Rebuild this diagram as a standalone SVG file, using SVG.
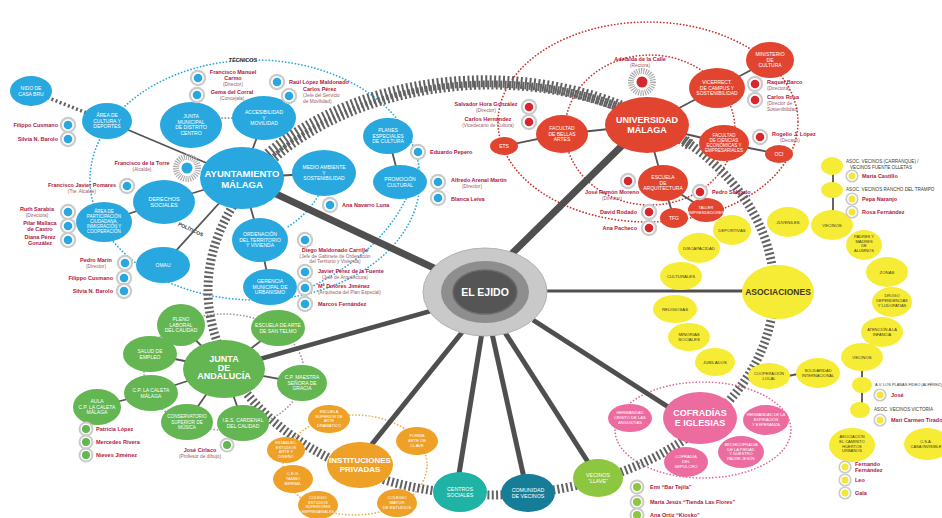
<svg xmlns="http://www.w3.org/2000/svg" width="942" height="518" viewBox="0 0 942 518">
<defs>
<style>
text{font-family:"Liberation Sans",Arial,Helvetica,sans-serif}
.w{fill:#fff;text-anchor:middle;font-size:5px}
.d{fill:#3d3a1c;text-anchor:middle;font-size:5px}
.b{font-weight:bold}
.pn{fill:#b3163c;font-size:5.5px;font-weight:bold}
.pr{fill:#9c5b6c;font-size:4.8px}
.lab{fill:#3d3a1c;font-size:4.6px}
.e{text-anchor:end}
.m{text-anchor:middle}
.blue{fill:#29a8df}
.red{fill:#e2452f}
.grn{fill:#63b651}
.org{fill:#efa027}
.pnk{fill:#ec6ca0}
.yel{fill:#f6ec35}
.con{stroke:#4f4f4f;fill:none}
.thin{stroke:#555;stroke-width:1.8;fill:none}
.dot{fill:none;stroke-width:1.7;stroke-dasharray:0.1 3.2;stroke-linecap:round}
.hatch{fill:none;stroke:#626262;stroke-dasharray:2 2.4}
</style>
<g id="mb"><circle r="8.2" fill="#cbcbcb"/><circle r="6" fill="#fff"/><circle r="4.3" fill="#29a8df"/></g>
<g id="mr"><circle r="8.2" fill="#cbcbcb"/><circle r="6" fill="#fff"/><circle r="4.3" fill="#d7262e"/></g>
<g id="mg"><circle r="7.5" fill="#cbcbcb"/><circle r="5.5" fill="#fff"/><circle r="4" fill="#63b651"/></g>
<g id="ml"><circle r="7.5" fill="#cbcbcb"/><circle r="5.5" fill="#fff"/><circle r="4" fill="#8dc63f"/></g>
<g id="my"><circle r="6.6" fill="#cbcbcb"/><circle r="4.9" fill="#fff"/><circle r="3.5" fill="#f3e83a"/></g>
<g id="sb"><circle r="11" fill="none" stroke="#a9a9a9" stroke-width="6" stroke-dasharray="1.1 1.1"/><circle r="7.5" fill="#fff"/><circle r="5.5" fill="#29a8df"/></g>
<g id="sr"><circle r="11" fill="none" stroke="#a9a9a9" stroke-width="6" stroke-dasharray="1.1 1.1"/><circle r="7.5" fill="#fff"/><circle r="5.5" fill="#d7262e"/></g>
</defs>
<rect width="942" height="518" fill="#fff"/>

<g id="rings">
<ellipse class="dot" cx="255" cy="180" rx="165" ry="120" stroke="#29a8df"/>
<path class="dot" d="M418 168 Q395 250 300 292" stroke="#29a8df"/>
<path class="dot" d="M318 196 Q306 216 286 228" stroke="#29a8df"/>
<ellipse class="dot" cx="648" cy="122" rx="150" ry="100" stroke="#c8322a"/>
<ellipse class="dot" cx="650" cy="130" rx="85" ry="75" stroke="#c8322a"/>
<ellipse class="dot" cx="224" cy="372" rx="80" ry="58" stroke="#9a9a9a"/>
<ellipse class="dot" cx="355" cy="465" rx="72" ry="50" stroke="#e4b050"/>
<ellipse class="dot" cx="703" cy="430" rx="88" ry="48" stroke="#e06c9c"/>
<ellipse class="hatch" cx="491" cy="290" rx="283" ry="205" stroke-width="9"/>
<path class="hatch" d="M262 160 A283 205 0 0 1 690 145" stroke-width="12"/>
<text x="243" y="62" class="m b" style="font-size:5.5px;fill:#333">TÉCNICOS</text>
<text x="190" y="231" class="m b" style="font-size:5px;fill:#333" transform="rotate(25 190 231)">POLÍTICOS</text>
</g>

<g id="connectors">
<line class="con" x1="485" y1="292" x2="242" y2="178" stroke-width="7"/>
<line class="con" x1="485" y1="280" x2="643" y2="125" stroke-width="7"/>
<line class="con" x1="470" y1="300" x2="224" y2="369" stroke-width="4.5"/>
<line class="con" x1="485" y1="291" x2="778" y2="291" stroke-width="3"/>
<line class="con" x1="472" y1="320" x2="360" y2="459" stroke-width="5"/>
<line class="con" x1="484" y1="320" x2="458" y2="480" stroke-width="5"/>
<line class="con" x1="489" y1="320" x2="526" y2="487" stroke-width="5"/>
<line class="con" x1="497" y1="320" x2="595" y2="473" stroke-width="5"/>
<line class="con" x1="533" y1="320" x2="690" y2="421" stroke-width="5"/>
<line class="thin" x1="242" y1="178" x2="107" y2="121" stroke-width="2.6"/>
<line class="thin" x1="242" y1="178" x2="264" y2="118"/>
<line class="thin" x1="242" y1="178" x2="164" y2="202"/>
<line class="thin" x1="242" y1="178" x2="260" y2="240"/>
<line class="thin" x1="242" y1="178" x2="163" y2="265" stroke-width="2.4"/>
<line class="thin" x1="242" y1="178" x2="324" y2="173"/>
<line class="hatch" x1="31" y1="91" x2="107" y2="121" stroke-width="3.5"/>
<line class="thin" x1="164" y1="202" x2="104" y2="222"/>
<line class="thin" x1="260" y1="240" x2="270" y2="287"/>
<line class="thin" x1="388" y1="136" x2="400" y2="182"/>
<line class="dot" x1="222" y1="118" x2="234" y2="118" stroke="#777"/>
<line class="thin" x1="647" y1="125" x2="562" y2="134"/>
<line class="thin" x1="562" y1="134" x2="504" y2="146"/>
<line class="thin" x1="647" y1="125" x2="663" y2="183"/>
<line class="thin" x1="663" y1="183" x2="674" y2="218"/>
<line class="thin" x1="663" y1="183" x2="706" y2="210"/>
<line class="thin" x1="647" y1="125" x2="724" y2="143"/>
<line class="thin" x1="724" y1="143" x2="779" y2="154"/>
<line class="thin" x1="647" y1="125" x2="717" y2="88"/>
<line class="thin" x1="717" y1="88" x2="770" y2="60"/>
<line class="thin" x1="224" y1="369" x2="181" y2="325"/>
<line class="thin" x1="224" y1="369" x2="278" y2="328"/>
<line class="thin" x1="224" y1="369" x2="150" y2="354"/>
<line class="thin" x1="224" y1="369" x2="151" y2="393"/>
<line class="thin" x1="224" y1="369" x2="187" y2="422"/>
<line class="thin" x1="224" y1="369" x2="243" y2="423"/>
<line class="thin" x1="224" y1="369" x2="302" y2="383"/>
<line class="thin" x1="151" y1="393" x2="97" y2="407"/>
<line class="thin" x1="833" y1="170" x2="833" y2="212"/>
<line class="thin" x1="862" y1="368" x2="862" y2="404"/>
<line class="thin" x1="788" y1="376" x2="798" y2="374"/>
</g>

<g id="el-ejido">
<ellipse cx="485" cy="292" rx="62" ry="44" fill="#c9c9c9" stroke="#b3b3b3"/>
<ellipse cx="485" cy="292" rx="44" ry="31" fill="#8e8e8e"/>
<ellipse cx="485" cy="292" rx="32" ry="22" fill="#555" stroke="#6a6a6a" stroke-width="1.5"/>
<text x="485" y="296" class="w b" style="font-size:10.5px">EL EJIDO</text>
</g>

<!-- BLUE -->
<g id="ayuntamiento"><ellipse class="blue" cx="242" cy="178" rx="42" ry="31"/><text class="w b" x="242" y="177" style="font-size:9.5px">AYUNTAMIENTO<tspan x="242" dy="10.5">MÁLAGA</tspan></text></g>
<g id="b-casa"><ellipse class="blue" cx="31" cy="91" rx="21" ry="15"/><text class="w" x="31" y="90">NIDO DE<tspan x="31" dy="5.6">CASA BRU</tspan></text></g>
<g id="b-cultura"><ellipse class="blue" cx="107" cy="121" rx="25" ry="18"/><text class="w" x="107" y="117">ÁREA DE<tspan x="107" dy="5.6">CULTURA Y</tspan><tspan x="107" dy="5.6">DEPORTES</tspan></text></g>
<g id="b-junta-municipal"><ellipse class="blue" cx="191" cy="125" rx="31" ry="23"/><text class="w" x="191" y="118">JUNTA<tspan x="191" dy="5.6">MUNICIPAL</tspan><tspan x="191" dy="5.6">DE DISTRITO</tspan><tspan x="191" dy="5.6">CENTRO</tspan></text></g>
<g id="b-accesibilidad"><ellipse class="blue" cx="264" cy="118" rx="32" ry="22"/><text class="w" x="264" y="114">ACCESIBILIDAD<tspan x="264" dy="5.6">Y</tspan><tspan x="264" dy="5.6">MOVILIDAD</tspan></text></g>
<g id="b-medio-ambiente"><ellipse class="blue" cx="324" cy="173" rx="32" ry="23"/><text class="w" x="324" y="169">MEDIO AMBIENTE<tspan x="324" dy="5.6">Y</tspan><tspan x="324" dy="5.6">SOSTENIBILIDAD</tspan></text></g>
<g id="b-planes"><ellipse class="blue" cx="388" cy="136" rx="25" ry="18"/><text class="w" x="388" y="132">PLANES<tspan x="388" dy="5.6">ESPECIALES</tspan><tspan x="388" dy="5.6">DE CULTURA</tspan></text></g>
<g id="b-promocion"><ellipse class="blue" cx="400" cy="182" rx="27" ry="17"/><text class="w" x="400" y="181">PROMOCIÓN<tspan x="400" dy="5.6">CULTURAL</tspan></text></g>
<g id="b-derechos"><ellipse class="blue" cx="164" cy="202" rx="31" ry="22"/><text class="w" x="164" y="201" style="font-size:5.5px">DERECHOS<tspan x="164" dy="6.2">SOCIALES</tspan></text></g>
<g id="b-participacion"><ellipse class="blue" cx="104" cy="222" rx="28" ry="20"/><text class="w" x="104" y="212.5" style="font-size:4.5px">ÁREA DE<tspan x="104" dy="5">PARTICIPACIÓN</tspan><tspan x="104" dy="5">CIUDADANA,</tspan><tspan x="104" dy="5">INMIGRACIÓN Y</tspan><tspan x="104" dy="5">COOPERACIÓN</tspan></text></g>
<g id="b-omau"><ellipse class="blue" cx="163" cy="265" rx="27" ry="18"/><text class="w" x="163" y="267">OMAU</text></g>
<g id="b-ordenacion"><ellipse class="blue" cx="260" cy="240" rx="28" ry="22"/><text class="w" x="260" y="236">ORDENACIÓN<tspan x="260" dy="5.6">DEL TERRITORIO</tspan><tspan x="260" dy="5.6">Y VIVIENDA</tspan></text></g>
<g id="b-gerencia"><ellipse class="blue" cx="270" cy="287" rx="27" ry="18"/><text class="w" x="270" y="283">GERENCIA<tspan x="270" dy="5.6">MUNICIPAL DE</tspan><tspan x="270" dy="5.6">URBANISMO</tspan></text></g>

<!-- RED -->
<g id="universidad"><ellipse class="red" cx="647" cy="125" rx="42" ry="28"/><text class="w b" x="647" y="123" style="font-size:9px">UNIVERSIDAD<tspan x="647" dy="10">MÁLAGA</tspan></text></g>
<g id="r-bellas-artes"><ellipse class="red" cx="562" cy="134" rx="26" ry="19"/><text class="w" x="562" y="130">FACULTAD<tspan x="562" dy="5.6">DE BELLAS</tspan><tspan x="562" dy="5.6">ARTES</tspan></text></g>
<g id="r-ets"><ellipse class="red" cx="504" cy="146" rx="14" ry="9"/><text class="w" x="504" y="148">ETS</text></g>
<g id="r-arquitectura"><ellipse class="red" cx="663" cy="183" rx="25" ry="18"/><text class="w" x="663" y="179">ESCUELA<tspan x="663" dy="5.6">DE</tspan><tspan x="663" dy="5.6">ARQUITECTURA</tspan></text></g>
<g id="r-tfg"><ellipse class="red" cx="674" cy="218" rx="14" ry="10"/><text class="w" x="674" y="220">TFG</text></g>
<g id="r-taller"><ellipse class="red" cx="706" cy="210" rx="18" ry="12"/><text class="w" x="706" y="209" style="font-size:4px">TALLER<tspan x="706" dy="4.8">EMPRENDEDORES</tspan></text></g>
<g id="r-economicas"><ellipse class="red" cx="724" cy="143" rx="25" ry="18"/><text class="w" x="724" y="137" style="font-size:4.5px">FACULTAD<tspan x="724" dy="5">DE CIENCIAS</tspan><tspan x="724" dy="5">ECONÓMICAS Y</tspan><tspan x="724" dy="5">EMPRESARIALES</tspan></text></g>
<g id="r-oci"><ellipse class="red" cx="779" cy="154" rx="14" ry="9"/><text class="w" x="779" y="156">OCI</text></g>
<g id="r-vicerrectorado"><ellipse class="red" cx="717" cy="88" rx="28" ry="20"/><text class="w" x="717" y="84">VICERRECT.<tspan x="717" dy="5.6">DE CAMPUS Y</tspan><tspan x="717" dy="5.6">SOSTENIBILIDAD</tspan></text></g>
<g id="r-ministerio"><ellipse class="red" cx="770" cy="60" rx="24" ry="18"/><text class="w" x="770" y="56">MINISTERIO<tspan x="770" dy="5.6">DE</tspan><tspan x="770" dy="5.6">CULTURA</tspan></text></g>

<!-- GREEN -->
<g id="junta-andalucia"><ellipse class="grn" cx="224" cy="369" rx="41" ry="29"/><text class="w b" x="224" y="362" style="font-size:9px">JUNTA<tspan x="224" dy="8.5">DE</tspan><tspan x="224" dy="8.5">ANDALUCÍA</tspan></text></g>
<g id="g-pleno"><ellipse class="grn" cx="181" cy="325" rx="24" ry="21"/><text class="w" x="181" y="321">PLENO<tspan x="181" dy="5.6">LABORAL</tspan><tspan x="181" dy="5.6">DEL CALIDAD</tspan></text></g>
<g id="g-escuela-arte"><ellipse class="grn" cx="278" cy="328" rx="27" ry="18"/><text class="w" x="278" y="327">ESCUELA DE ARTE<tspan x="278" dy="5.6">DE SAN TELMO</tspan></text></g>
<g id="g-salud"><ellipse class="grn" cx="150" cy="354" rx="27" ry="18"/><text class="w" x="150" y="353">SALUD DE<tspan x="150" dy="5.6">EMPLEO</tspan></text></g>
<g id="g-cp"><ellipse class="grn" cx="151" cy="393" rx="27" ry="18"/><text class="w" x="151" y="392">C.P. LA CALETA<tspan x="151" dy="5.6">MÁLAGA</tspan></text></g>
<g id="g-aula"><ellipse class="grn" cx="97" cy="407" rx="24" ry="18"/><text class="w" x="97" y="403">AULA<tspan x="97" dy="5.6">C.P. LA CALETA</tspan><tspan x="97" dy="5.6">MÁLAGA</tspan></text></g>
<g id="g-conservatorio"><ellipse class="grn" cx="187" cy="422" rx="26" ry="18"/><text class="w" x="187" y="418" style="font-size:4.6px">CONSERVATORIO<tspan x="187" dy="5.6">SUPERIOR DE</tspan><tspan x="187" dy="5.6">MÚSICA</tspan></text></g>
<g id="g-ies"><ellipse class="grn" cx="243" cy="423" rx="26" ry="18"/><text class="w" x="243" y="422">I.E.S. CARDENAL<tspan x="243" dy="5.6">DEL CALIDAD</tspan></text></g>
<g id="g-cp-maestra"><ellipse class="grn" cx="302" cy="383" rx="25" ry="18"/><text class="w" x="302" y="379">C.P. MAESTRA<tspan x="302" dy="5.6">SEÑORA DE</tspan><tspan x="302" dy="5.6">GRACIA</tspan></text></g>

<!-- ORANGE -->
<g id="instituciones-privadas"><ellipse class="org" cx="360" cy="465" rx="33" ry="23"/><text class="w b" x="360" y="463" style="font-size:8px">INSTITUCIONES<tspan x="360" dy="9">PRIVADAS</tspan></text></g>
<g id="o-escuela"><ellipse class="org" cx="329" cy="419" rx="21" ry="14"/><text class="w" x="329" y="413" style="font-size:4px">ESCUELA<tspan x="329" dy="4.6">SUPERIOR DE</tspan><tspan x="329" dy="4.6">ARTE</tspan><tspan x="329" dy="4.6">DRAMÁTICO</tspan></text></g>
<g id="o-forma"><ellipse class="org" cx="417" cy="441" rx="21" ry="14"/><text class="w" x="417" y="437" style="font-size:4.2px">FORMA<tspan x="417" dy="4.8">ARTE DE</tspan><tspan x="417" dy="4.8">CLAVE</tspan></text></g>
<g id="o-establec"><ellipse class="org" cx="286" cy="450" rx="19" ry="13"/><text class="w" x="286" y="444" style="font-size:4px">ESTABLEC.<tspan x="286" dy="4.6">ESTUDIOS</tspan><tspan x="286" dy="4.6">ARTE Y</tspan><tspan x="286" dy="4.6">DISEÑO</tspan></text></g>
<g id="o-ceg"><ellipse class="org" cx="293" cy="479" rx="20" ry="14"/><text class="w" x="293" y="475" style="font-size:4.2px">C.E.G.<tspan x="293" dy="4.8">TAMBO</tspan><tspan x="293" dy="4.8">BERNAL</tspan></text></g>
<g id="o-colegio-estudios"><ellipse class="org" cx="318" cy="505" rx="20" ry="14"/><text class="w" x="318" y="499" style="font-size:3.8px">COLEGIO<tspan x="318" dy="4.5">ESTUDIOS</tspan><tspan x="318" dy="4.5">SUPERIORES</tspan><tspan x="318" dy="4.5">EMPRESARIALES</tspan></text></g>
<g id="o-colegio-mayor"><ellipse class="org" cx="397" cy="503" rx="20" ry="14"/><text class="w" x="397" y="499" style="font-size:4.2px">COLEGIO<tspan x="397" dy="4.8">MAYOR</tspan><tspan x="397" dy="4.8">DE ESTUDIOS</tspan></text></g>

<!-- TEAL / LIME -->
<g id="centros-sociales"><ellipse cx="460" cy="492" rx="27" ry="20" fill="#1fb3a6"/><text class="w" x="460" y="491" style="font-size:5.3px">CENTROS<tspan x="460" dy="6">SOCIALES</tspan></text></g>
<g id="comunidad-vecinos"><ellipse cx="528" cy="493" rx="27" ry="19" fill="#167d98"/><text class="w" x="528" y="492" style="font-size:5.3px">COMUNIDAD<tspan x="528" dy="6">DE VECINOS</tspan></text></g>
<g id="vecinos-llave"><ellipse cx="598" cy="478" rx="25" ry="19" fill="#8dc63f"/><text class="w" x="598" y="477" style="font-size:5.3px">VECINOS<tspan x="598" dy="6">“LLAVE”</tspan></text></g>

<!-- PINK -->
<g id="cofradias"><ellipse class="pnk" cx="700" cy="418" rx="37" ry="26"/><text class="w b" x="700" y="416" style="font-size:9px">COFRADÍAS<tspan x="700" dy="10">E IGLESIAS</tspan></text></g>
<g id="p-hermandad-cristo"><ellipse class="pnk" cx="630" cy="418" rx="22" ry="14"/><text class="w" x="630" y="414" style="font-size:4.2px">HERMANDAD<tspan x="630" dy="4.8">CRISTO DE LAS</tspan><tspan x="630" dy="4.8">ANGUSTIAS</tspan></text></g>
<g id="p-cofradia-sepulcro"><ellipse class="pnk" cx="686" cy="462" rx="22" ry="15"/><text class="w" x="686" y="458" style="font-size:4.2px">COFRADÍA<tspan x="686" dy="4.8">DEL</tspan><tspan x="686" dy="4.8">SEPULCRO</tspan></text></g>
<g id="p-archicofradia"><ellipse class="pnk" cx="741" cy="452" rx="23" ry="16"/><text class="w" x="741" y="446" style="font-size:4px">ARCHICOFRADÍA<tspan x="741" dy="4.6">DE LA PIEDAD</tspan><tspan x="741" dy="4.6">Y NUESTRO</tspan><tspan x="741" dy="4.6">PADRE JESÚS</tspan></text></g>
<g id="p-hermandad-expiracion"><ellipse class="pnk" cx="766" cy="420" rx="23" ry="15"/><text class="w" x="766" y="416" style="font-size:4px">HERMANDAD DE LA<tspan x="766" dy="4.8">EXPIRACIÓN</tspan><tspan x="766" dy="4.8">Y ESPERANZA</tspan></text></g>

<!-- YELLOW -->
<g id="asociaciones"><ellipse class="yel" cx="778" cy="292" rx="36" ry="27"/><text class="d b" x="778" y="295" style="font-size:8.5px">ASOCIACIONES</text></g>
<g id="y-deportivas"><ellipse class="yel" cx="732" cy="230" rx="19" ry="15"/><text class="d" x="732" y="232" style="font-size:4.3px">DEPORTIVAS</text></g>
<g id="y-discapacidad"><ellipse class="yel" cx="699" cy="248" rx="21" ry="15"/><text class="d" x="699" y="250" style="font-size:4.3px">DISCAPACIDAD</text></g>
<g id="y-culturales"><ellipse class="yel" cx="681" cy="276" rx="21" ry="14"/><text class="d" x="681" y="278" style="font-size:4.3px">CULTURALES</text></g>
<g id="y-religiosas"><ellipse class="yel" cx="675" cy="309" rx="22" ry="14"/><text class="d" x="675" y="311" style="font-size:4.3px">RELIGIOSAS</text></g>
<g id="y-minorias"><ellipse class="yel" cx="689" cy="337" rx="21" ry="14"/><text class="d" x="689" y="336" style="font-size:4.3px">MINORÍAS<tspan x="689" dy="5">SOCIALES</tspan></text></g>
<g id="y-jubilados"><ellipse class="yel" cx="715" cy="362" rx="20" ry="14"/><text class="d" x="715" y="364" style="font-size:4.3px">JUBILADOS</text></g>
<g id="y-cooperacion"><ellipse class="yel" cx="769" cy="376" rx="21" ry="13"/><text class="d" x="769" y="375" style="font-size:4px">COOPERACIÓN<tspan x="769" dy="5">LOCAL</tspan></text></g>
<g id="y-solidaridad"><ellipse class="yel" cx="818" cy="373" rx="22" ry="15"/><text class="d" x="818" y="372" style="font-size:4px">SOLIDARIDAD<tspan x="818" dy="5">INTERNACIONAL</tspan></text></g>
<g id="y-juveniles"><ellipse class="yel" cx="788" cy="222" rx="21" ry="15"/><text class="d" x="788" y="224" style="font-size:4.3px">JUVENILES</text></g>
<g id="y-vecinos1"><ellipse class="yel" cx="832" cy="225" rx="21" ry="15"/><text class="d" x="832" y="227" style="font-size:4.3px">VECINOS</text></g>
<g id="y-padres"><ellipse class="yel" cx="864" cy="245" rx="18" ry="15"/><text class="d" x="864" y="238" style="font-size:4px">PADRES Y<tspan x="864" dy="4.6">MADRES</tspan><tspan x="864" dy="4.6">DE</tspan><tspan x="864" dy="4.6">ALUMNOS</tspan></text></g>
<g id="y-zonas"><ellipse class="yel" cx="887" cy="272" rx="21" ry="15"/><text class="d" x="887" y="274" style="font-size:4.3px">ZONAS</text></g>
<g id="y-drogo"><ellipse class="yel" cx="892" cy="302" rx="20" ry="15"/><text class="d" x="892" y="297" style="font-size:4px">DROGO<tspan x="892" dy="4.8">DEPENDENCIAS</tspan><tspan x="892" dy="4.8">Y LUDOPATÍAS</tspan></text></g>
<g id="y-atencion"><ellipse class="yel" cx="882" cy="332" rx="21" ry="15"/><text class="d" x="882" y="331" style="font-size:4px">ATENCIÓN A LA<tspan x="882" dy="5">INFANCIA</tspan></text></g>
<g id="y-vecinos2"><ellipse class="yel" cx="862" cy="357" rx="21" ry="14"/><text class="d" x="862" y="359" style="font-size:4.3px">VECINOS</text></g>
<g id="y-carranque"><ellipse class="yel" cx="832" cy="166" rx="11" ry="9"/><text class="lab" x="846" y="163">ASOC. VECINOS (CARRANQUE) /</text><text class="lab" x="850" y="168.5">VECINOS FUENTE OLLETAS</text></g>
<g id="y-rancho"><ellipse class="yel" cx="832" cy="190" rx="11" ry="8"/><text class="lab" x="846" y="191">ASOC. VECINOS RANCHO DEL TRAMPO</text></g>
<g id="y-planas"><ellipse class="yel" cx="862" cy="385" rx="10" ry="8"/><text class="lab" x="875" y="386" style="font-size:3.9px">A.V. LOS PLANAS FIDEO (ALFÉREZ)</text></g>
<g id="y-victoria"><ellipse class="yel" cx="860" cy="410" rx="10" ry="8"/><text class="lab" x="874" y="411">ASOC. VECINOS VICTORIA</text></g>
<g id="y-huertos"><ellipse class="yel" cx="852" cy="445" rx="23" ry="17"/><text class="d" x="852" y="438" style="font-size:4px">ASOCIACIÓN<tspan x="852" dy="4.8">EL CAMINITO</tspan><tspan x="852" dy="4.8">HUERTOS</tspan><tspan x="852" dy="4.8">URBANOS</tspan></text></g>
<g id="y-csa"><ellipse class="yel" cx="927" cy="444" rx="23" ry="16"/><text class="d" x="926" y="443" style="font-size:4px">C.S.A.<tspan x="926" dy="5">CASA INVISIBLE</tspan></text></g>

<!-- PEOPLE -->
<g id="people">
<g id="pp-fmc"><use href="#mb" x="198" y="78"/><text class="pn m" x="233" y="74">Francisco Manuel</text><text class="pn m" x="233" y="80">Carmo</text><text class="pr m" x="233" y="86">(Director)</text></g>
<g id="pp-gema"><use href="#mb" x="197" y="95"/><text class="pn m" x="232" y="94">Gema del Corral</text><text class="pr m" x="232" y="100">(Concejala)</text></g>
<g id="pp-raul"><use href="#mb" x="277" y="82"/><text class="pn" x="289" y="84">Raúl López Maldonado</text></g>
<g id="pp-carlosp"><use href="#mb" x="289" y="96"/><text class="pn" x="303" y="91">Carlos Pérez</text><text class="pr" x="303" y="97">(Jefe del Servicio</text><text class="pr" x="303" y="103">de Movilidad)</text></g>
<g id="pp-eduardo"><use href="#mb" x="418" y="152"/><text class="pn" x="430" y="154">Eduardo Pepero</text></g>
<g id="pp-alfredo"><use href="#mb" x="438" y="182"/><text class="pn" x="451" y="182">Alfredo Arenal Martín</text><text class="pr" x="462" y="188">(Director)</text></g>
<g id="pp-blanca"><use href="#mb" x="438" y="198"/><text class="pn" x="451" y="201">Blanca Leiva</text></g>
<g id="pp-ana-navarro"><use href="#mb" x="330" y="205"/><text class="pn" x="342" y="207">Ana Navarro Luna</text></g>
<g id="pp-diego"><use href="#mb" x="305" y="240"/><text class="pn m" x="335" y="252">Diego Maldonado Carrillo</text><text class="pr m" x="335" y="257.5">(Jefe de Gabinete de Ordenación</text><text class="pr m" x="335" y="263">del Territorio y Vivienda)</text></g>
<g id="pp-javier"><use href="#mb" x="305" y="272"/><text class="pn" x="318" y="273">Javier Pérez de la Fuente</text><text class="pr" x="322" y="278.5">(Jefe de Arquitectura)</text></g>
<g id="pp-dolores"><use href="#mb" x="305" y="288"/><text class="pn" x="318" y="288">Mª Dolores Jiménez</text><text class="pr" x="318" y="293.5">(Arquitecta del Plan Especial)</text></g>
<g id="pp-marcos"><use href="#mb" x="305" y="304"/><text class="pn" x="318" y="306">Marcos Fernández</text></g>
<g id="pp-filippo1"><use href="#mb" x="68" y="125"/><text class="pn e" x="58" y="127">Filippo Cusmano</text></g>
<g id="pp-silvia1"><use href="#mb" x="68" y="139"/><text class="pn e" x="58" y="141">Silvia N. Barolo</text></g>
<g id="pp-alcalde"><use href="#sb" x="187" y="168"/><text class="pn m" x="142" y="165">Francisco de la Torre</text><text class="pr m" x="142" y="171">(Alcalde)</text></g>
<g id="pp-pomares"><use href="#mb" x="127" y="186"/><text class="pn m" x="82" y="187">Francisco Javier Pomares</text><text class="pr m" x="82" y="193">(Tte. Alcalde)</text></g>
<g id="pp-ruth"><use href="#mb" x="68" y="212"/><text class="pn m" x="37" y="211">Ruth Sarabia</text><text class="pr m" x="37" y="217">(Directora)</text></g>
<g id="pp-pilar"><use href="#mb" x="68" y="226"/><text class="pn m" x="40" y="225">Pilar Mallaca</text><text class="pn m" x="40" y="231">de Castro</text></g>
<g id="pp-diana"><use href="#mb" x="68" y="240"/><text class="pn m" x="40" y="239">Diana Pérez</text><text class="pn m" x="40" y="245">González</text></g>
<g id="pp-pedro-marin"><use href="#mb" x="125" y="263"/><text class="pn m" x="96" y="262">Pedro Marín</text><text class="pr m" x="96" y="268">(Director)</text></g>
<g id="pp-filippo2"><use href="#mb" x="124" y="278"/><text class="pn e" x="113" y="280">Filippo Cusmano</text></g>
<g id="pp-silvia2"><use href="#mb" x="124" y="291"/><text class="pn e" x="113" y="293">Silvia N. Barolo</text></g>

<g id="pp-adelaida"><use href="#sr" x="642" y="82"/><text class="pn m" x="640" y="61">Adelaida de la Calle</text><text class="pr m" x="640" y="67">(Rectora)</text></g>
<g id="pp-salvador"><use href="#mr" x="529" y="107"/><text class="pn m" x="486" y="106">Salvador Hora González</text><text class="pr m" x="486" y="112">(Director)</text></g>
<g id="pp-carlosh"><use href="#mr" x="529" y="122"/><text class="pn m" x="488" y="121">Carlos Hernández</text><text class="pr m" x="488" y="127">(Vicedecano de Cultura)</text></g>
<g id="pp-jose-ramon"><use href="#mr" x="628" y="181"/><text class="pn m" x="612" y="194">José Ramón Moreno</text><text class="pr m" x="612" y="200">(Director)</text></g>
<g id="pp-raquel"><use href="#mr" x="755" y="84"/><text class="pn" x="767" y="84">Raquel Barco</text><text class="pr" x="767" y="90">(Directora)</text></g>
<g id="pp-carlosr"><use href="#mr" x="755" y="100"/><text class="pn" x="767" y="99">Carlos Rosa</text><text class="pr" x="767" y="105">(Director de</text><text class="pr" x="767" y="111">Sostenibilidad)</text></g>
<g id="pp-rogelio"><use href="#mr" x="760" y="137"/><text class="pn" x="772" y="136">Rogelio J. López</text><text class="pr" x="780" y="142">(Decano)</text></g>
<g id="pp-pedro-s"><use href="#mr" x="700" y="192"/><text class="pn" x="712" y="194">Pedro Salgado</text></g>
<g id="pp-david"><use href="#mr" x="649" y="212"/><text class="pn e" x="637" y="214">David Rodado</text></g>
<g id="pp-ana-pacheco"><use href="#mr" x="649" y="228"/><text class="pn e" x="637" y="230">Ana Pacheco</text></g>

<g id="pp-patricia"><use href="#mg" x="86" y="429"/><text class="pn" x="96" y="431">Patricia López</text></g>
<g id="pp-mercedes"><use href="#mg" x="86" y="442"/><text class="pn" x="96" y="444">Mercedes Rivera</text></g>
<g id="pp-nieves"><use href="#mg" x="86" y="455"/><text class="pn" x="96" y="457">Nieves Jiménez</text></g>
<g id="pp-jose-cirlaco"><use href="#mg" x="227" y="445"/><text class="pn m" x="200" y="452">José Cirlaco</text><text class="pr m" x="200" y="458">(Profesor de dibujo)</text></g>

<g id="pp-emi"><use href="#ml" x="637" y="487"/><text class="pn" x="650" y="489">Emi “Bar Tejila”</text></g>
<g id="pp-maria-jesus"><use href="#ml" x="637" y="502"/><text class="pn" x="650" y="504">María Jesús “Tienda Las Flores”</text></g>
<g id="pp-ana-ortiz"><use href="#ml" x="637" y="515"/><text class="pn" x="650" y="517">Ana Ortiz “Kiosko”</text></g>

<g id="pp-maria-castillo"><use href="#my" x="852" y="176"/><text class="pn" x="862" y="178">María Castillo</text></g>
<g id="pp-pepa"><use href="#my" x="852" y="199"/><text class="pn" x="862" y="201">Pepa Naranjo</text></g>
<g id="pp-rosa"><use href="#my" x="852" y="212"/><text class="pn" x="862" y="214">Rosa Fernández</text></g>
<g id="pp-jose-y"><use href="#my" x="880" y="395"/><text class="pn" x="891" y="397">José</text></g>
<g id="pp-mari-carmen"><use href="#my" x="880" y="420"/><text class="pn" x="891" y="422">Mari Carmen Tirado</text></g>
<g id="pp-fernando"><use href="#my" x="845" y="467"/><text class="pn" x="855" y="466">Fernando</text><text class="pn" x="855" y="472">Fernández</text></g>
<g id="pp-leo"><use href="#my" x="845" y="480"/><text class="pn" x="855" y="482">Leo</text></g>
<g id="pp-gala"><use href="#my" x="845" y="493"/><text class="pn" x="855" y="495">Gala</text></g>
</g>
</svg>
